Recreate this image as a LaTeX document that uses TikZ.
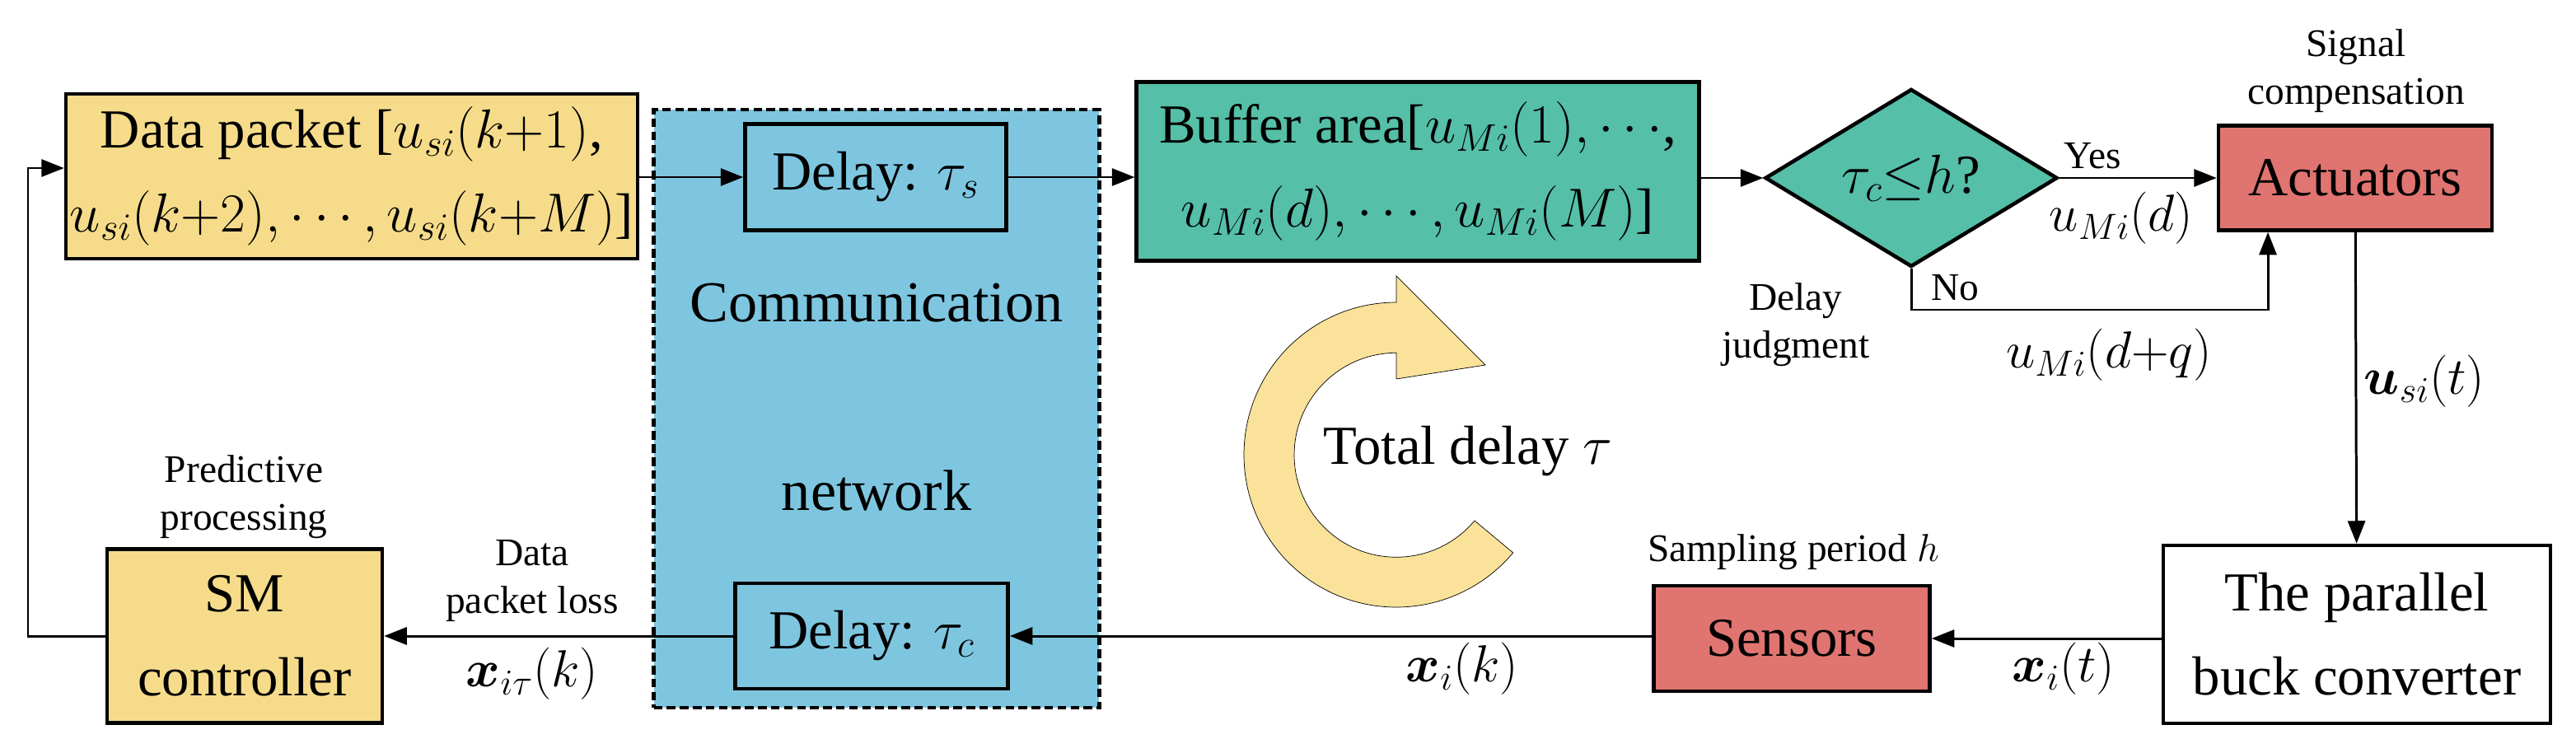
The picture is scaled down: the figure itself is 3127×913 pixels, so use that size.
\RequirePackage{fix-cm}
\documentclass[tikz,border=0pt]{standalone}
\usepackage{bm}
\usepackage{fontspec}
\setmainfont{Liberation Serif}
\usetikzlibrary{
  shapes,
  arrows,
  arrows.meta,
  shapes.geometric,
  positioning,
}
\definecolor{packetyellow}{RGB}{246,220,138}
\definecolor{netblue}{RGB}{126,198,224}
\definecolor{bufferteal}{RGB}{85,191,168}
\definecolor{devicered}{RGB}{224,116,112}
\definecolor{loopyellow}{RGB}{251,226,154}
\tikzstyle{block} = [
rectangle,
draw,
line width=2.6pt,
align=center,
inner sep=0pt,
font=\fontsize{38}{58}\selectfont
]
\tikzstyle{note} = [
align=center,
inner sep=0pt,
font=\fontsize{27}{33}\selectfont
]
\tikzstyle{signal} = [
inner sep=0pt,
font=\fontsize{36}{44}\selectfont
]
\tikzstyle{arrow} = [draw, line width=1.7pt, -{Triangle[length=0.55cm,width=0.42cm]}]

\begin{document}
\begin{tikzpicture}[x=0.02cm, y=-0.02cm]
  \useasboundingbox (0,0) rectangle (3127,913);
  % Place nodes
  \node [block, fill=netblue, dashed, dash pattern=on 6pt off 3pt, minimum width=10.82cm, minimum height=14.52cm] (network) at (1064,496) {};
  \node [block, draw=none, font=\fontsize{40}{130}\selectfont] (netlabel) at (1064,482) {Communication\\network};
  \node [block, fill=packetyellow, minimum width=13.88cm, minimum height=4cm] (packet) at (427,214) {Data packet [$u_{si}(k{+}1)$,\\$u_{si}(k{+}2),\cdots,u_{si}(k{+}M)$]};
  \node [block, fill=netblue, minimum width=6.34cm, minimum height=2.58cm] (delays) at (1063,215) {Delay: $\tau_s$};
  \node [block, fill=netblue, minimum width=6.62cm, minimum height=2.56cm] (delayc) at (1058,772) {Delay: $\tau_c$};
  \node [block, fill=bufferteal, minimum width=13.66cm, minimum height=4.34cm] (buffer) at (1721,208) {Buffer area[$u_{Mi}(1),\cdots$,\\$u_{Mi}(d),\cdots,u_{Mi}(M)$]};
  \node [block, diamond, fill=bufferteal, aspect=1.64, minimum width=7.1cm, minimum height=4.32cm] (judge) at (2320,216) {$\tau_c{\le}h$?};
  \node [block, fill=devicered, minimum width=6.64cm, minimum height=2.54cm] (act) at (2859,216) {Actuators};
  \node [block, fill=white, minimum width=9.4cm, minimum height=4.32cm] (buck) at (2861,770) {The parallel\\buck converter};
  \node [block, fill=devicered, minimum width=6.7cm, minimum height=2.56cm] (sens) at (2175,775) {Sensors};
  \node [block, fill=packetyellow, minimum width=6.68cm, minimum height=4.22cm] (sm) at (297,772) {SM\\controller};

  % Labels
  \node [note] (predict) at (296,603) {Predictive\\processing};
  \node [note] (loss) at (646,705) {Data\\packet loss};
  \node [signal] (xtau) at (646,818) {$\bm{x}_{i\tau}(k)$};
  \node [note] (compens) at (2860,86) {Signal\\compensation};
  \node [note] (yes) at (2540,189) {Yes};
  \node [signal] (ud) at (2575,265) {$u_{Mi}(d)$};
  \node [note] (no) at (2373,349) {No};
  \node [note] (judgelabel) at (2180,394) {Delay\\judgment};
  \node [signal] (udq) at (2560,431) {$u_{Mi}(d{+}q)$};
  \node [signal] (usi) at (2943,463) {$\bm{u}_{si}(t)$};
  \node [note] (sampling) at (2177,670) {Sampling period $h$};
  \node [signal] (xk) at (1775,812) {$\bm{x}_i(k)$};
  \node [signal] (xt) at (2505,812) {$\bm{x}_i(t)$};

  % Total delay loop
  \fill [loopyellow] (1695,367) arc[start angle=270, end angle=40, radius=185] -- (1790,632) arc[start angle=40, end angle=270, radius=124] -- (1695,460) -- (1803,443) -- (1695,335) -- cycle;
  \draw [line width=0.4pt] (1695,367) arc[start angle=270, end angle=40, radius=185] -- (1790,632) arc[start angle=40, end angle=270, radius=124] -- (1695,460) -- (1803,443) -- (1695,335) -- cycle;
  \node [block, draw=none] (total) at (1782,548) {Total delay $\tau$};

  % Draw edges
  \coordinate (fb) at (34,204);
  \coordinate (nocorner) at (2753,376);
  \path [arrow] (sm.west) -| (fb) -- (fb -| packet.west);
  \path [arrow] (packet.east |- delays) -- (delays);
  \path [arrow] (delays) -- (buffer.west |- delays);
  \path [arrow] (buffer.east |- judge) -- (judge);
  \path [arrow] (judge) -- (act);
  \path [arrow] (judge.south) |- (nocorner) -- (nocorner |- act.south);
  \path [arrow] (act) -- (buck);
  \path [arrow] (buck.west |- sens) -- (sens);
  \path [arrow] (sens.west |- delayc) -- (delayc);
  \path [arrow] (delayc) -- (sm);
\end{tikzpicture}
\end{document}
